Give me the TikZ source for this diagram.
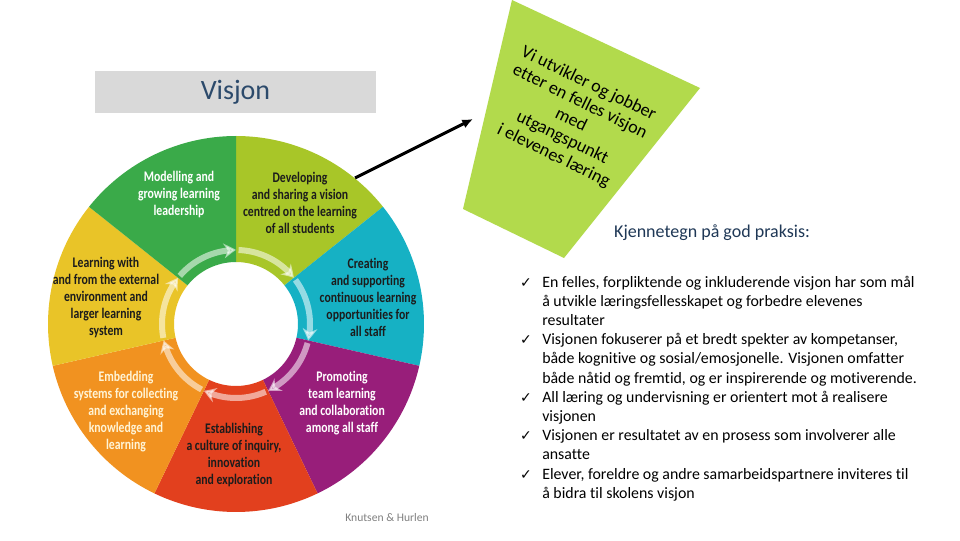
\documentclass[tikz,border=0pt]{standalone}
\usepackage{fontspec}
\setmainfont[Ligatures=NoCommon]{Carlito}
\newfontfamily\wheelfont[FakeStretch=0.8,Ligatures=NoCommon]{Carlito}
\newfontfamily\checkfont{DejaVu Sans}
\usepackage{tikz}
\usetikzlibrary{calc}
\usetikzlibrary{arrows.meta,bending}

\definecolor{segGreen}{RGB}{58,170,73}
\definecolor{segLime}{RGB}{168,198,40}
\definecolor{segTeal}{RGB}{22,177,196}
\definecolor{segPurple}{RGB}{152,30,122}
\definecolor{segRed}{RGB}{226,64,30}
\definecolor{segOrange}{RGB}{241,146,32}
\definecolor{segYellow}{RGB}{233,196,40}
\definecolor{trapLime}{RGB}{178,218,76}
\definecolor{visjonGrey}{RGB}{217,217,217}
\definecolor{visjonBlue}{RGB}{44,74,107}
\definecolor{headBlue}{RGB}{31,56,86}
\definecolor{darkText}{RGB}{28,28,28}
\definecolor{creamText}{RGB}{255,244,214}

\newcommand{\bulletlines}[1]{\parbox[t]{330pt}{\raggedright #1}}

\tikzset{
	wheeltext/.style={font=\wheelfont\bfseries\fontsize{11}{12.75}\selectfont, align=center, inner sep=0pt},
	ringarrow/.style={draw=white, opacity=0.55, line width=4.5pt, -{Stealth[length=9pt,width=11pt,bend]}},
	pointer/.style={line width=2.25pt, -{Latex[length=8pt,width=7pt]}},
	bullettext/.style={anchor=base west, inner sep=0pt, text=black, font=\fontsize{11.9}{14.4}\selectfont},
	checkmark/.style={anchor=base, inner sep=0pt, font=\checkfont\fontsize{10.5}{10.5}\selectfont},
}

\begin{document}
\begin{tikzpicture}[x=0.75pt, y=0.75pt]
	\useasboundingbox (0,0) rectangle (960,540);
	\fill[white] (0,0) rectangle (960,540);

	\coordinate (wheel) at (236,216);

	\fill[segLime] ($(wheel)+(90:188)$) arc[start angle=90,end angle=38.571,radius=188] -- ($(wheel)+(38.571:62)$) arc[start angle=38.571,end angle=90,radius=62] -- cycle;
	\fill[segTeal] ($(wheel)+(38.571:188)$) arc[start angle=38.571,end angle=-12.857,radius=188] -- ($(wheel)+(-12.857:62)$) arc[start angle=-12.857,end angle=38.571,radius=62] -- cycle;
	\fill[segPurple] ($(wheel)+(-12.857:188)$) arc[start angle=-12.857,end angle=-64.286,radius=188] -- ($(wheel)+(-64.286:62)$) arc[start angle=-64.286,end angle=-12.857,radius=62] -- cycle;
	\fill[segRed] ($(wheel)+(-64.286:188)$) arc[start angle=-64.286,end angle=-115.714,radius=188] -- ($(wheel)+(-115.714:62)$) arc[start angle=-115.714,end angle=-64.286,radius=62] -- cycle;
	\fill[segOrange] ($(wheel)+(-115.714:188)$) arc[start angle=-115.714,end angle=-167.143,radius=188] -- ($(wheel)+(-167.143:62)$) arc[start angle=-167.143,end angle=-115.714,radius=62] -- cycle;
	\fill[segYellow] ($(wheel)+(-167.143:188)$) arc[start angle=-167.143,end angle=-218.571,radius=188] -- ($(wheel)+(-218.571:62)$) arc[start angle=-218.571,end angle=-167.143,radius=62] -- cycle;
	\fill[segGreen] ($(wheel)+(141.429:188)$) arc[start angle=141.429,end angle=90,radius=188] -- ($(wheel)+(90:62)$) arc[start angle=90,end angle=141.429,radius=62] -- cycle;

	\draw[ringarrow] ($(wheel)+(88:74)$) arc[start angle=88,end angle=38.571,radius=74];
	\draw[ringarrow] ($(wheel)+(36.571:74)$) arc[start angle=36.571,end angle=-12.857,radius=74];
	\draw[ringarrow] ($(wheel)+(-14.857:74)$) arc[start angle=-14.857,end angle=-64.286,radius=74];
	\draw[ringarrow] ($(wheel)+(-66.286:74)$) arc[start angle=-66.286,end angle=-115.714,radius=74];
	\draw[ringarrow] ($(wheel)+(-117.714:74)$) arc[start angle=-117.714,end angle=-167.143,radius=74];
	\draw[ringarrow] ($(wheel)+(-169.143:74)$) arc[start angle=-169.143,end angle=-218.571,radius=74];
	\draw[ringarrow] ($(wheel)+(139.429:74)$) arc[start angle=139.429,end angle=90,radius=74];

	\node[wheeltext, text=white] (modelling) at (179,345) {Modelling and\\growing learning\\leadership};
	\node[wheeltext, text=darkText] (developing) at (300,337) {Developing\\and sharing a vision\\centred on the learning\\of all students};
	\node[wheeltext, text=darkText] (creating) at (368,243) {Creating\\and supporting\\continuous learning\\opportunities for\\all staff};
	\node[wheeltext, text=white] (promoting) at (342,137) {Promoting\\team learning\\and collaboration\\among all staff};
	\node[wheeltext, text=darkText] (establishing) at (234,85) {Establishing\\a culture of inquiry,\\innovation\\and exploration};
	\node[wheeltext, text=creamText] (embedding) at (126,128) {Embedding\\systems for collecting\\and exchanging\\knowledge and\\learning};
	\node[wheeltext, text=darkText] (external) at (106,242) {Learning with\\and from the external\\environment and\\larger learning\\system};

	\node[fill=visjonGrey, minimum width=210.75pt, minimum height=31.5pt, inner sep=0pt, text=visjonBlue, font=\fontsize{21}{24}\selectfont] (visjon) at (235.5,447.5) {Visjon};

	\coordinate (trapTop) at (512,540);
	\coordinate (trapRight) at (700,452);
	\coordinate (trapBottom) at (564,282);
	\coordinate (trapLeft) at (463,331);
	\fill[trapLime] (trapTop) -- (trapRight) -- (trapBottom) -- (trapLeft) -- cycle;
	\node[rotate=-26, align=center, inner sep=0pt, font=\fontsize{13.5}{15}\selectfont] (visiontext) at (571,420) {Vi utvikler og jobber\\etter en felles visjon\\med\\utgangspunkt\\i elevenes læring};

	\coordinate (visionpt) at (355,362);
	\coordinate (trapIn) at (473,421);
	\draw[pointer] (visionpt) -- (trapIn);

	\node[anchor=base, inner sep=0pt, text=headBlue, font=\fontsize{13.5}{16}\selectfont] (praksis) at (712,302.5) {Kjennetegn på god praksis:};

	\node[checkmark] (check1) at (526,253) {✓};
	\node[bullettext] (bullet1) at (542,253) {\bulletlines{En felles, forpliktende og inkluderende visjon har som mål\\å utvikle læringsfellesskapet og forbedre elevenes\\resultater}};
	\node[checkmark] (check2) at (526,195.4) {✓};
	\node[bullettext] (bullet2) at (542,195.4) {\bulletlines{Visjonen fokuserer på et bredt spekter av kompetanser,\\både kognitive og sosial/emosjonelle. Visjonen omfatter\\både nåtid og fremtid, og er inspirerende og motiverende.}};
	\node[checkmark] (check3) at (526,137.8) {✓};
	\node[bullettext] (bullet3) at (542,137.8) {\bulletlines{All læring og undervisning er orientert mot å realisere\\visjonen}};
	\node[checkmark] (check4) at (526,99.4) {✓};
	\node[bullettext] (bullet4) at (542,99.4) {\bulletlines{Visjonen er resultatet av en prosess som involverer alle\\ansatte}};
	\node[checkmark] (check5) at (526,61) {✓};
	\node[bullettext] (bullet5) at (542,61) {\bulletlines{Elever, foreldre og andre samarbeidspartnere inviteres til\\å bidra til skolens visjon}};

	\node[inner sep=0pt, text=gray, font=\fontsize{8.7}{10}\selectfont] (credit) at (387,22) {Knutsen \& Hurlen};
\end{tikzpicture}
\end{document}
